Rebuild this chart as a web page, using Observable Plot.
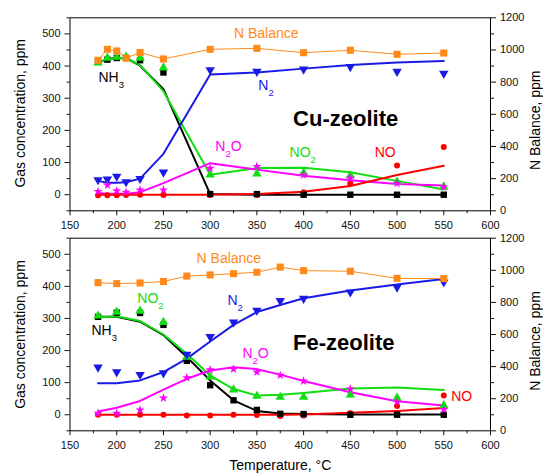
<!DOCTYPE html>
<html>
<head>
<meta charset="utf-8">
<script src="https://cdn.jsdelivr.net/npm/d3@7"></script>
<script src="https://cdn.jsdelivr.net/npm/@observablehq/plot@0.6"></script>
<style>
  html, body { margin: 0; padding: 0; background: #fff; }
  #chart { width: 543px; height: 473px; overflow: hidden; position: relative; }
  #chart svg { display: block; }
</style>
</head>
<body>
<div id="chart"></div>
<script>
// ---------- Cu-zeolite (top panel) ----------
const cuT        = [180, 190, 200, 210, 225, 250, 300, 350, 400, 450, 500, 550];
const cuNH3      = [415, 420, 425, 425, 418, 380, 2, 2, 0, 0, 0, 0];
const cuNH3Model = [410, 422, 425, 425, 401, 328, 2, 0, 0, 0, 0, 0];
const cuNO2      = [410, 425, 428, 428, 425, 395, 62, 65, 68, 60, 40, 25];
const cuNO2Model = [410, 420, 425, 425, 403, 322, 62, 83, 84, 70, 43, 16];
const cuN2       = [46, 48, 57, 40, 50, 70, 388, 383, 390, 398, 383, 377];
const cuN2Model  = [43, 37, 37, 39, 50, 127, 374, 380, 392, 403, 411, 416];
const cuN2O      = [10, 30, 12, 8, 15, 15, 82, 88, 61, 51, 35, 24];
const cuN2OModel = [5, 3, 3, 3, 8, 36, 98, 78, 59, 45, 33, 29];
const cuNO       = [-2, -2, -2, -1, 0, -1, -1, -1, 8, 35, 91, 148];
const cuNOModel  = [0, 0, 0, 0, 0, 0, 0, 2, 9, 27, 61, 90];
const cuBalance  = [936, 1004, 994, 950, 984, 944, 1004, 1010, 983, 998, 973, 981]; // right axis, ppm

// ---------- Fe-zeolite (bottom panel) ----------
const feT        = [180, 200, 225, 250, 275, 300, 325, 350, 375, 400, 450, 500, 550];
const feNH3      = [305, 318, 317, 280, 168, 92, 45, 15, 3, 2, 0, 0, 0];
const feNH3Model = [305, 305, 290, 248, 180, 107, 45, 12, 4, 2, 1, 1, 1];
const feNO2      = [308, 320, 323, 288, 180, 118, 78, 58, 55, 55, 62, 52, 29];
const feNO2Model = [303, 307, 292, 250, 190, 122, 80, 60, 62, 68, 82, 85, 77];
const feN2       = [148, 133, 125, 130, 188, 243, 288, 325, 355, 362, 382, 397, 413];
const feN2Model  = [98, 98, 107, 133, 175, 228, 280, 320, 342, 363, 387, 406, 423];
const feN2O      = [5, 5, 15, 52, 115, 140, 142, 133, 123, 105, 80, 40, 16];
const feN2OModel = [10, 22, 43, 78, 112, 138, 148, 142, 125, 105, 70, 42, 29];
const feNO       = [0, 0, 0, 0, -2, -2, 0, -1, -4, -2, 5, 27, 60];
const feNOModel  = [0, 0, 0, 0, 0, 0, 0, 0, 0, 1, 6, 12, 21];
const feBalance  = [923, 917, 921, 930, 964, 971, 979, 988, 1020, 998, 994, 950, 948]; // right axis, ppm

// ---------- axes ----------
const xMajor = [150, 200, 250, 300, 350, 400, 450, 500, 550, 600];
const xMinor = [175, 225, 275, 325, 375, 425, 475, 525, 575];
const yMajor = [0, 100, 200, 300, 400, 500];
const yMinor = [-50, 50, 150, 250, 350, 450, 550];
const rMajor = [0, 200, 400, 600, 800, 1000, 1200];
const rMinor = [100, 300, 500, 700, 900, 1100];

// ---------- annotations ----------
const cuLabels = [
  {t: "N Balance", x: 360, y: 501, c: "#FF8A1A", a: "middle"},
  {t: "NH3", x: 180.5, y: 364, c: "#000000", a: "start"},
  {t: "N2", x: 351.5, y: 339, c: "#1A1AE6", a: "start"},
  {t: "N2O", x: 305.5, y: 150, c: "#FF00FF", a: "start"},
  {t: "NO2", x: 385, y: 131, c: "#11DD11", a: "start"},
  {t: "NO", x: 476, y: 131, c: "#FF0000", a: "start"}
];
const feLabels = [
  {t: "N Balance", x: 320, y: 487, c: "#FF8A1A", a: "middle"},
  {t: "NO2", x: 222, y: 363, c: "#11DD11", a: "start"},
  {t: "N2", x: 318.5, y: 356, c: "#1A1AE6", a: "start"},
  {t: "NH3", x: 173, y: 263, c: "#000000", a: "start"},
  {t: "N2O", x: 334.5, y: 191, c: "#FF00FF", a: "start"},
  {t: "NO", x: 558, y: 57, c: "#FF0000", a: "start"}
];

const C = {NH3: "#000000", NO2: "#11DD11", N2: "#1A1AE6", N2O: "#FF00FF", NO: "#FF0000", BAL: "#FF8A1A"};

const toLeft = r => r / 2 - 50;      // right axis (0..1200) -> left axis (-50..550)
const toRight = v => (v + 50) * 2;

const triDown = {
  draw(ctx, size) {
    const s3 = Math.sqrt(3);
    const y = -Math.sqrt(size / (s3 * 3));
    ctx.moveTo(0, -y * 2);
    ctx.lineTo(-s3 * y, y);
    ctx.lineTo(s3 * y, y);
    ctx.closePath();
  }
};

const pairs = (T, V) => T.map((t, i) => [t, V[i]]);

function panel(o) {
  const T = o.T;
  const marks = [
    Plot.frame({stroke: "#000", strokeWidth: 1}),
    // model lines
    Plot.line(pairs(T, o.NH3m), {stroke: C.NH3, strokeWidth: 2}),
    Plot.line(pairs(T, o.NO2m), {stroke: C.NO2, strokeWidth: 2}),
    Plot.line(pairs(T, o.N2m), {stroke: C.N2, strokeWidth: 2}),
    Plot.line(pairs(T, o.N2Om), {stroke: C.N2O, strokeWidth: 2}),
    Plot.line(pairs(T, o.NOm), {stroke: C.NO, strokeWidth: 2}),
    Plot.line(pairs(T, o.BAL.map(toLeft)), {stroke: C.BAL, strokeWidth: 1}),
    // measured points
    Plot.dot(pairs(T, o.NO), {symbol: "circle", r: 3, fill: C.NO}),
    Plot.dot(pairs(T, o.NH3), {symbol: "square", r: 3.6, fill: C.NH3}),
    Plot.dot(pairs(T, o.NO2), {symbol: "triangle", r: 3.5, fill: C.NO2}),
    Plot.dot(pairs(T, o.N2), {symbol: triDown, r: 3.5, fill: C.N2}),
    Plot.dot(pairs(T, o.N2O), {symbol: "star", r: 2.9, fill: C.N2O}),
    Plot.dot(pairs(T, o.BAL.map(toLeft)), {symbol: "square", r: 4, fill: C.BAL}),
    // axes
    Plot.axisX(xMajor, {anchor: "bottom", tickSize: 5, tickPadding: 5.5, fontSize: 11, label: null}),
    Plot.axisX(xMinor, {anchor: "bottom", tickSize: 3, tickFormat: () => "", label: null}),
    Plot.axisY(yMajor, {anchor: "left", tickSize: 5, tickPadding: 4.5, fontSize: 11, label: null}),
    Plot.axisY(yMinor, {anchor: "left", tickSize: 3, tickFormat: () => "", label: null}),
    Plot.axisY(rMajor.map(toLeft), {anchor: "right", tickSize: 5, tickPadding: 4.5, fontSize: 11, tickFormat: d => String(toRight(d)), label: null}),
    Plot.axisY(rMinor.map(toLeft), {anchor: "right", tickSize: 3, tickFormat: () => "", label: null}),
    // axis titles
    Plot.text(["Gas concentration, ppm"], {frameAnchor: "left", textAnchor: "middle", lineAnchor: "middle", rotate: -90, dx: -49.5, dy: o.leftDy, fontSize: 14, fill: "#000"}),
    Plot.text(["N Balance, ppm"], {frameAnchor: "right", textAnchor: "middle", lineAnchor: "middle", rotate: -90, dx: 45.3, dy: o.rightDy, fontSize: 14, fill: "#000"}),
    // annotations
    ...o.labels.map(l => Plot.text([l], {x: "x", y: "y", text: "t", fill: l.c, textAnchor: l.a, fontSize: 14})),
    Plot.text([o.name], {x: o.nameX, y: o.nameY, fontSize: 22, fontWeight: "bold", fill: "#000", textAnchor: "middle"})
  ];
  if (o.xTitle) {
    marks.push(Plot.text(["Temperature, °C"], {frameAnchor: "bottom", textAnchor: "middle", lineAnchor: "middle", dy: 34.5, fontSize: 14, fill: "#000"}));
  }
  const svg = Plot.plot({
    width: 543,
    height: o.height,
    marginLeft: 69.5,
    marginRight: 53,
    marginTop: o.mt,
    marginBottom: o.mb,
    x: {domain: [150, 600], label: null},
    y: {domain: [-50, 550], label: null},
    style: {fontFamily: "'Liberation Sans', Arial, Helvetica, sans-serif", fontSize: "11px", color: "#111", background: "#fff"},
    marks
  });
  // chemical subscripts as real text (tspans)
  d3.select(svg).selectAll("text").each(function () {
    const t = this.textContent;
    if (!/[A-Za-z]\d/.test(t)) return;
    const el = d3.select(this);
    el.text(null);
    const parts = t.match(/\d+|\D+/g);
    let down = false;
    parts.forEach(p => {
      const isSub = /^\d+$/.test(p);
      const ts = el.append("tspan").text(p);
      if (isSub) { ts.attr("dy", 6).attr("font-size", 9.5); down = true; }
      else if (down) { ts.attr("dy", -6); down = false; }
    });
  });
  return svg;
}

const chart = document.getElementById("chart");
chart.appendChild(panel({
  T: cuT, NH3: cuNH3, NH3m: cuNH3Model, NO2: cuNO2, NO2m: cuNO2Model, N2: cuN2, N2m: cuN2Model,
  N2O: cuN2O, N2Om: cuN2OModel, NO: cuNO, NOm: cuNOModel, BAL: cuBalance,
  labels: cuLabels, name: "Cu-zeolite", nameX: 445, nameY: 237,
  height: 232, mt: 17.3, mb: 21.7, leftDy: -1, rightDy: 6, xTitle: false
}));
chart.appendChild(panel({
  T: feT, NH3: feNH3, NH3m: feNH3Model, NO2: feNO2, NO2m: feNO2Model, N2: feN2, N2m: feN2Model,
  N2O: feN2O, N2Om: feN2OModel, NO: feNO, NOm: feNOModel, BAL: feBalance,
  labels: feLabels, name: "Fe-zeolite", nameX: 443, nameY: 225,
  height: 241, mt: 5.7, mb: 42.7, leftDy: 0, rightDy: 6.5, xTitle: true
}));
</script>
</body>
</html>
